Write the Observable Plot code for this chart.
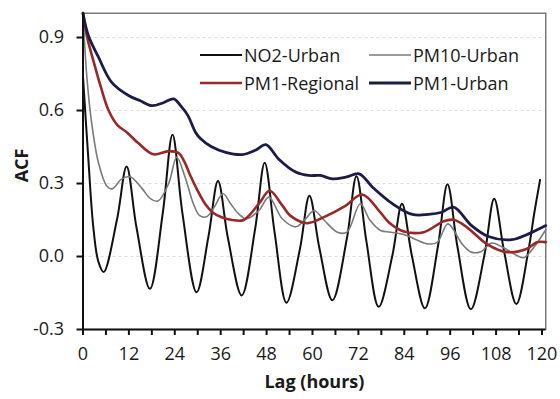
<!DOCTYPE html>
<html>
<head>
<meta charset="utf-8">
<script src="https://cdn.jsdelivr.net/npm/d3@7"></script>
<script src="https://cdn.jsdelivr.net/npm/@observablehq/plot@0.6"></script>
<style>
  html, body { margin: 0; padding: 0; background: #fff; }
  #chart { position: relative; width: 560px; height: 399px; font-family: "Open Sans", sans-serif; }
  .legend { position: absolute; left: 0; top: 0; font-size: 18px; color: #1a1a1a; }
  .legend .item { position: absolute; display: flex; align-items: center; white-space: nowrap; height: 28px; }
  .legend svg { display: block; margin-right: 2px; }
</style>
</head>
<body>
<div id="chart"></div>
<script>
// Autocorrelation function by lag (hours)
const no2Lag = [0, 1.4, 2.7, 4.0, 5.4, 8.9, 11.4, 14.0, 17.5, 20.9, 23.4, 26.0, 29.7, 32.8, 35.3, 37.9, 41.5,
  45.0, 47.5, 50.1, 53.2, 56.7, 59.2, 61.8, 65.2, 69.0, 71.5, 74.1, 77.3, 80.9, 83.4, 86.0, 89.4,
  92.8, 95.3, 97.9, 101.4, 105.0, 107.5, 110.1, 113.3, 116.5, 118.0, 119.5];
const no2Acf = [0.74, 0.40, 0.12, -0.02, -0.064, 0.153, 0.37, 0.118, -0.133, 0.184, 0.50, 0.177, -0.147, 0.082, 0.31, 0.075, -0.16,
  0.113, 0.385, 0.098, -0.19, 0.03, 0.25, 0.035, -0.18, 0.075, 0.33, 0.062, -0.207, 0.005, 0.217, 0.002, -0.213,
  0.042, 0.297, 0.04, -0.217, 0.01, 0.237, 0.021, -0.195, 0.03, 0.18, 0.315];

const pm10Lag = [0, 1, 2.3, 4.05, 6.2, 7.6, 10.1, 12.3, 15.4, 17.6, 19.6, 22.4, 24.5, 26.7, 28.9, 30.5, 32.3, 34.2,
  36.6, 38.6, 40.7, 42.7, 46, 48.6, 52.1, 55.6, 58.5, 60.4, 63, 66.5, 69, 72.5, 75, 77.8, 80.4, 84, 87, 90,
  92.6, 95.4, 99.1, 101.5, 104, 106.8, 109.5, 113.5, 115.2, 117.5, 121];
const pm10Acf = [1.0, 0.74, 0.545, 0.385, 0.29, 0.278, 0.318, 0.328, 0.28, 0.238, 0.228, 0.30, 0.408, 0.326, 0.215, 0.168, 0.163, 0.20,
  0.258, 0.217, 0.175, 0.155, 0.189, 0.244, 0.155, 0.122, 0.16, 0.189, 0.15, 0.10, 0.10, 0.217, 0.15, 0.107, 0.10, 0.09, 0.07, 0.052,
  0.058, 0.134, 0.052, 0.018, 0.02, 0.055, 0.04, 0.004, -0.005, 0.03, 0.11];

const pm1RegLag = [0, 1.1, 2.8, 4.6, 6.7, 9, 11.5, 14.5, 18.4, 22.4, 25, 26.5, 28, 30, 32, 34, 36.4, 39, 42,
  46, 48.8, 52.1, 54.2, 58.6, 63, 68.5, 73, 77.8, 80, 83.9, 89.1, 94.3, 96.9, 100.4, 105.7, 110.9, 116.1, 118.7, 121];
const pm1RegAcf = [1.0, 0.9, 0.80, 0.70, 0.60, 0.54, 0.51, 0.465, 0.42, 0.433, 0.425, 0.39, 0.335, 0.27, 0.215, 0.18, 0.16, 0.15, 0.15,
  0.217, 0.27, 0.21, 0.168, 0.137, 0.162, 0.207, 0.255, 0.18, 0.14, 0.103, 0.10, 0.145, 0.151, 0.12, 0.05, 0.018, 0.032, 0.059, 0.059];

const pm1UrbLag = [0, 1.4, 4.05, 7.5, 11.9, 15, 18, 21, 23.7, 25.5, 27.4, 29.4, 30.7, 33.5, 37.3, 41.6, 45.2, 47.8,
  51.2, 55.6, 59, 62, 65.2, 68.7, 72.2, 75.7, 80.9, 86.1, 90.3, 93.8, 96.9, 101.6, 106, 112.1, 116.5, 121];
const pm1UrbAcf = [1.0, 0.908, 0.819, 0.716, 0.662, 0.64, 0.62, 0.632, 0.648, 0.62, 0.58, 0.511, 0.485, 0.452, 0.428, 0.419, 0.438, 0.46,
  0.40, 0.347, 0.333, 0.333, 0.319, 0.326, 0.34, 0.285, 0.217, 0.173, 0.173, 0.182, 0.203, 0.127, 0.082, 0.069, 0.093, 0.127];

const yTicks = [-0.3, 0.0, 0.3, 0.6, 0.9];
const gridValues = [0.0, 0.3, 0.6, 0.9];
const xLabels = [0, 12, 24, 36, 48, 60, 72, 84, 96, 108, 120];
const xTickMarks = [0, 6, 12, 18, 24, 30, 36, 42, 48, 54, 60, 66, 72, 78, 84, 90, 96, 102, 108, 114, 120];

// Series drawing order and styling (last one on top)
const series = [
  {name: "NO2-Urban", lag: no2Lag, acf: no2Acf, color: "#111111", width: 2},
  {name: "PM10-Urban", lag: pm10Lag, acf: pm10Acf, color: "#7a7a7a", width: 1.6},
  {name: "PM1-Regional", lag: pm1RegLag, acf: pm1RegAcf, color: "#9a2828", width: 2.6},
  {name: "PM1-Urban", lag: pm1UrbLag, acf: pm1UrbAcf, color: "#1c1c46", width: 2.8}
];

const lineMarks = series.map(s => {
  const rows = s.lag.map((lag, i) => ({lag, acf: s.acf[i]}));
  return Plot.line(rows, {x: "lag", y: "acf", stroke: s.color, strokeWidth: s.width, curve: "catmull-rom"});
});

const chart = Plot.plot({
  width: 560,
  height: 399,
  marginLeft: 82.5,
  marginRight: 14.7,
  marginTop: 12.7,
  marginBottom: 70,
  style: {fontFamily: '"Open Sans", sans-serif', fontSize: "18px", color: "#1a1a1a", background: "#fff", overflow: "visible"},
  x: {domain: [0, 121]},
  y: {domain: [-0.3, 1.0]},
  marks: [
    Plot.ruleY(gridValues, {stroke: "#dddddd", strokeDasharray: "3,3", strokeWidth: 1}),
    Plot.frame({stroke: "#5a5a5a", strokeWidth: 1.2}),
    ...lineMarks,
    Plot.ruleX([0], {stroke: "#111", strokeWidth: 2}),
    Plot.ruleY([-0.3], {stroke: "#111", strokeWidth: 2.2}),
    Plot.axisY({ticks: yTicks, tickFormat: d => d.toFixed(1), tickSize: 6, tickPadding: 13, label: null, stroke: "#111", strokeWidth: 2}),
    Plot.axisX({ticks: xTickMarks, tickFormat: d => xLabels.includes(d) ? String(d) : "", tickSize: 6, tickPadding: 12, label: null, stroke: "#111", strokeWidth: 2}),
    Plot.text(["ACF"], {frameAnchor: "left", dx: -61, dy: 11, rotate: -90, fontWeight: "bold"}),
    Plot.text(["Lag (hours)"], {frameAnchor: "bottom", dy: 58, fontWeight: "bold"})
  ]
});

const root = document.getElementById("chart");
root.appendChild(chart);

// Legend: two columns, two rows, inside the plot area
const legend = document.createElement("div");
legend.className = "legend";
const slots = [[200, 41], [369, 41], [200, 69], [369, 69]];
series.forEach((s, i) => {
  const item = document.createElement("div");
  item.className = "item";
  item.style.left = slots[i][0] + "px";
  item.style.top = slots[i][1] + "px";
  item.innerHTML = `<svg width="42" height="8"><line x1="0" y1="4" x2="42" y2="4" stroke="${s.color}" stroke-width="${s.width}"/></svg><span>${s.name}</span>`;
  legend.appendChild(item);
});
root.appendChild(legend);
</script>
</body>
</html>
